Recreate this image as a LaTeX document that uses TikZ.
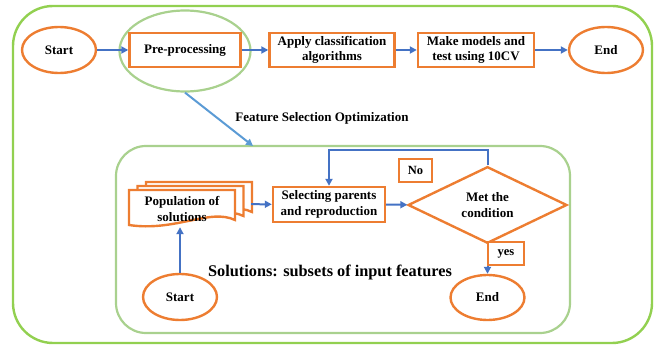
\documentclass[tikz,border=0pt]{standalone}
\usepackage{fontspec}
\setmainfont{Liberation Serif}
\usetikzlibrary{shapes.geometric,arrows.meta}

\definecolor{bOrange}{HTML}{ED7D31}
\definecolor{bBlue}{HTML}{4472C4}
\definecolor{lBlue}{HTML}{5B9BD5}
\definecolor{gOuter}{HTML}{92D050}
\definecolor{gInner}{HTML}{A9D18E}

\tikzstyle{tS}=[rectangle,draw=bOrange,line width=2.4pt,inner sep = 0pt,fill=white,font=\bfseries\fontsize{13}{15.5}\selectfont,align=center]
\tikzstyle{oS}=[ellipse,draw=bOrange,line width=2.4pt,minimum width=74pt,minimum height=46pt,inner sep = 0pt,font=\bfseries\fontsize{13}{15.5}\selectfont]
\tikzstyle{dS}=[diamond,draw=bOrange,line width=2.4pt,minimum width=159pt,minimum height=46pt,inner sep = 0pt,font=\bfseries\fontsize{13}{15.5}\selectfont,align=center]
\tikzstyle{lS}=[rectangle,draw=bOrange,line width=2.4pt,fill=white,inner sep = 0pt,font=\bfseries\fontsize{12.5}{15}\selectfont]
\tikzstyle{aS}=[draw=bBlue,line width=2pt,-{Triangle[length=7pt,width=7pt]}]

\begin{document}
\begin{tikzpicture}[x=1pt,y=-1pt]
                \useasboundingbox (0,0) rectangle (657,350);
                % outer frame
                \draw[gOuter,line width=2.4pt,rounded corners=40pt] (13,6) rectangle (652,343);
                % main flow
                \draw (59,50) node[oS] (s0) {Start};
                \draw (185,51) node[ellipse,draw=gInner,line width=2.2pt,minimum width=131pt,minimum height=81pt] (pe) {};
                \draw (185,50) node[tS,minimum width=111pt,minimum height=34pt] (n0) {Pre-processing};
                \draw (332,50) node[tS,minimum width=125pt,minimum height=34pt] (n1) {Apply classification\\algorithms};
                \draw (476,50) node[tS,minimum width=116pt,minimum height=34pt] (n2) {Make models and\\test using 10CV};
                \draw (606,50) node[oS] (e0) {End};
                \path
                    (s0) edge[aS] (n0)
                    (n0) edge[aS] (n1)
                    (n1) edge[aS] (n2)
                    (n2) edge[aS] (e0)
                ;
                % feature selection part
                \draw (343,239.5) node[draw=gInner,line width=2.2pt,rounded corners=30pt,minimum width=454pt,minimum height=187pt] (fs) {};
                \coordinate (fsIn) at (253,146);
                \draw[lBlue,line width=2pt,-{Triangle[length=7pt,width=7pt]}] (pe.south) -- (fsIn);
                \draw (322,118) node[font=\bfseries\fontsize{13}{15.5}\selectfont] (fsL) {Feature Selection Optimization};
                % stack of solutions
                \foreach \dx/\dy in {17/-8,8.5/-4,0/0}
                    \filldraw[draw=bOrange,fill=white,line width=2.4pt] (129+\dx,190+\dy) -- (235+\dx,190+\dy) -- (235+\dx,220+\dy)
                        .. controls (210+\dx,208+\dy) and (175+\dx,232+\dy) .. (129+\dx,225+\dy) -- cycle;
                \draw (182,209) node[font=\bfseries\fontsize{13}{15.5}\selectfont,align=center,minimum width=106pt,minimum height=36pt,inner sep=0pt] (pop) {Population of\\solutions};
                \draw (190,204) node[minimum width=122pt,minimum height=45pt,inner sep=0pt] (popS) {};
                \draw (329,204.5) node[tS,minimum width=112pt,minimum height=35pt] (n3) {Selecting parents\\and reproduction};
                \draw (487.5,205) node[dS] (d0) {Met the\\condition};
                \draw (180,297) node[oS] (s1) {Start};
                \draw (487.5,297.5) node[oS,minimum height=45pt] (e1) {End};
                \path
                    (popS) edge[aS] (n3)
                    (n3) edge[aS] (d0)
                    (d0) edge[aS] (e1)
                ;
                \draw[aS] (s1) -- (s1 |- pop.south);
                \draw[aS] (d0.north) -- ++(0,-15) -| (n3.north);
                \draw (415.5,170.5) node[lS,minimum width=33pt,minimum height=23pt] (no) {No};
                \draw (506,253.5) node[lS,minimum width=36pt,minimum height=23pt] (yes) {yes};
                \draw (330,272) node[font=\bfseries\fontsize{16.3}{19}\selectfont] (sol) {Solutions: subsets of input features};
        \end{tikzpicture}
\end{document}
